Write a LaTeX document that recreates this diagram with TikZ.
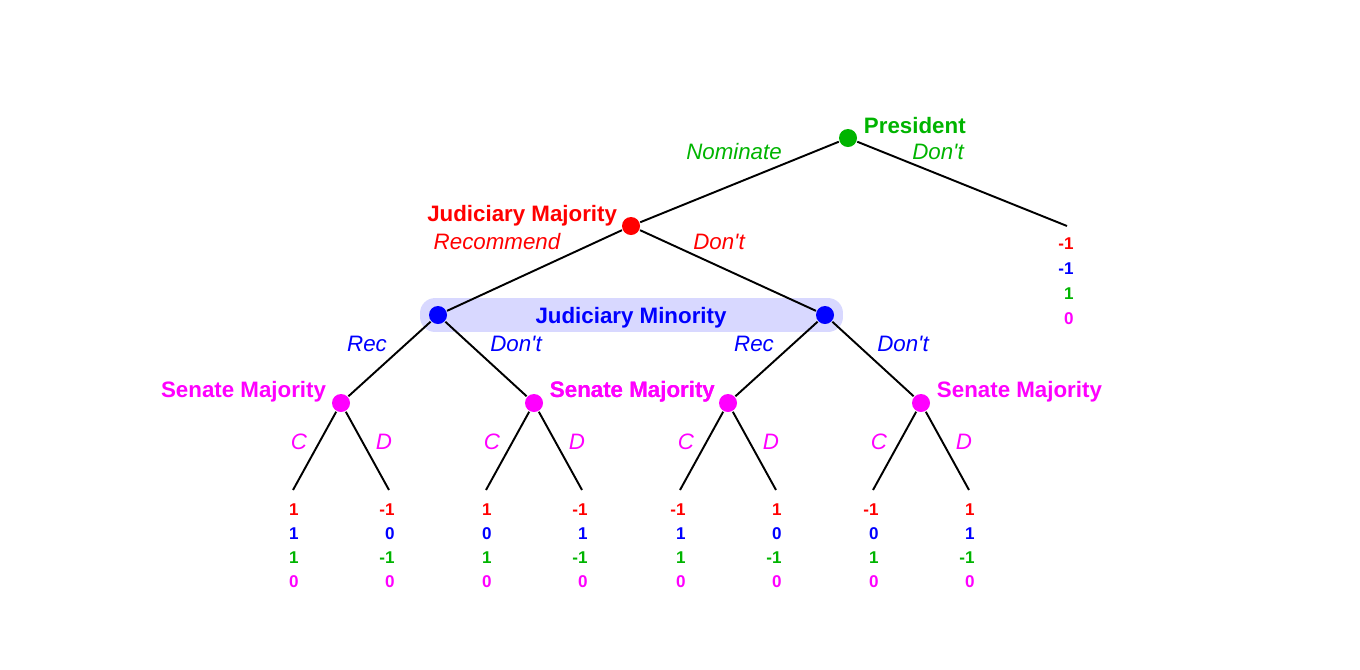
\documentclass[tikz,border=0pt]{standalone}
\usepackage{fontspec}
\setmainfont{Liberation Sans}[Ligatures=TeXOff]
\usetikzlibrary{calc, fit, backgrounds}
\definecolor{cred}{HTML}{FF0000}
\definecolor{cblue}{HTML}{0000FF}
\definecolor{cgreen}{HTML}{00B400}
\definecolor{cmag}{HTML}{FF00FF}
\definecolor{cband}{HTML}{D8D8FF}
\tikzset{
  every picture/.style={line width=1.1pt},
  dot/.style={circle, fill=#1, inner sep=0pt, minimum size=0.36cm},
  edge/.style={draw=black, line width=1.1pt},
  player/.style={text=#1, font=\fontsize{12.7}{15}\selectfont\bfseries, inner sep=0pt},
  move/.style={text=#1, font=\fontsize{12.7}{15}\selectfont\itshape, inner sep=0pt},
  pay/.style={text=#1, font=\fontsize{9.7}{11}\selectfont\bfseries, inner sep=0pt, anchor=east},
  band/.style={fill=cband, rounded corners=0.3cm, inner xsep=0.16cm, inner ysep=0.14cm},
}

\begin{document}
\begin{tikzpicture}
  \useasboundingbox (0,0) rectangle (27.2,-13.38);
  % President
  \node[dot=cgreen] (pres) at (16.96, -2.76) {};
  \node[player=cgreen, anchor=west] (preslab) at (17.26, -2.52) {President};
  \coordinate (pout) at (21.34, -4.52);
  \node[dot=cred] (jmaj) at (12.62, -4.52) {};
  \draw[edge] (pres) -- (jmaj);
  \draw[edge] (pres) -- (pout);
  \node[move=cgreen] (nom) at (14.68, -3.04) {Nominate};
  \node[move=cgreen] (pdont) at (18.76, -3.04) {Don't};
  \foreach \v/\col [count=\k] in {-1/cred, -1/cblue, 1/cgreen, 0/cmag}
    \node[pay=\col] (pout-\k) at ($(pout)+(0.15,-0.36-0.50*\k+0.50)$) {\v};
  % Judiciary majority
  \node[player=cred, anchor=east] (jmajlab) at (12.36, -4.32) {Judiciary Majority};
  \node[move=cred] (recom) at (9.94, -4.84) {Recommend};
  \node[move=cred] (jdont) at (14.38, -4.84) {Don't};
  % Judiciary minority, one information set
  \node[dot=cblue] (jl) at (8.76, -6.30) {};
  \node[dot=cblue] (jr) at (16.50, -6.30) {};
  \begin{scope}[on background layer]
    \node[band, fit=(jl)(jr)] (jband) {};
  \end{scope}
  \node[player=cblue] (jminlab) at (12.62, -6.36) {Judiciary Minority};
  \draw[edge] (jmaj) -- (jl);
  \draw[edge] (jmaj) -- (jr);
  \node[move=cblue] (rec1) at (7.34, -6.88) {Rec};
  \node[move=cblue] (don1) at (10.32, -6.88) {Don't};
  \node[move=cblue] (rec2) at (15.08, -6.88) {Rec};
  \node[move=cblue] (don2) at (18.06, -6.88) {Don't};
  % Senate majority
  \foreach \x [count=\i] in {6.82, 10.68, 14.56, 18.42} {
    \node[dot=cmag] (s\i) at (\x, -8.06) {};
    \coordinate (c\i) at (\x-0.96, -9.80);
    \coordinate (d\i) at (\x+0.96, -9.80);
    \draw[edge] (s\i) -- (c\i);
    \draw[edge] (s\i) -- (d\i);
    \node[move=cmag] (cl\i) at (\x-0.84, -8.84) {C};
    \node[move=cmag] (dl\i) at (\x+0.86, -8.84) {D};
  }
  \draw[edge] (jl) -- (s1);
  \draw[edge] (jl) -- (s2);
  \draw[edge] (jr) -- (s3);
  \draw[edge] (jr) -- (s4);
  \node[player=cmag, anchor=east] (slab1) at (6.54, -7.84) {Senate Majority};
  \node[player=cmag, anchor=west] (slab2) at (10.98, -7.84) {Senate Majority};
  \node[player=cmag, anchor=east] (slab3) at (slab2.east) {Senate Majority};
  \node[player=cmag, anchor=west] (slab4) at (18.72, -7.84) {Senate Majority};
  % payoffs
  \foreach \l/\r/\b/\g/\m in {c1/1/1/1/0, d1/-1/0/-1/0, c2/1/0/1/0, d2/-1/1/-1/0,
                               c3/-1/1/1/0, d3/1/0/-1/0, c4/-1/0/1/0, d4/1/1/-1/0} {
    \foreach \v/\col [count=\k] in {\r/cred, \b/cblue, \g/cgreen, \m/cmag}
      \node[pay=\col] (\l-\k) at ($(\l)+(0.13,-0.40-0.48*\k+0.48)$) {\v};
  }
\end{tikzpicture}
\end{document}
